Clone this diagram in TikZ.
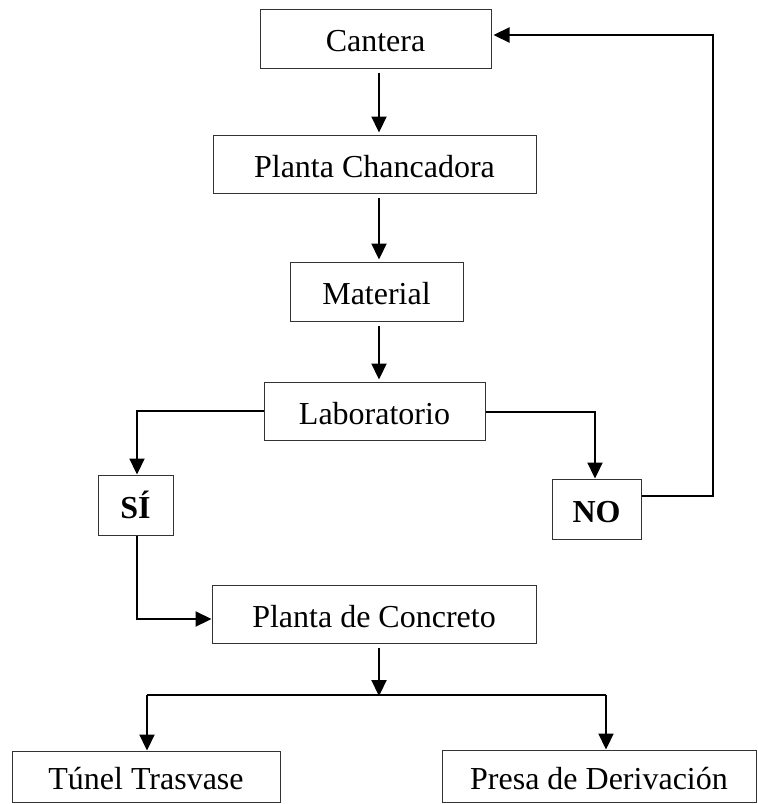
\documentclass[tikz,border=0pt]{standalone}
\usepackage{fontspec}
\setmainfont{Liberation Serif}
\usetikzlibrary{arrows.meta}
\begin{document}
\begin{tikzpicture}[x=1pt,y=-1pt,
  box/.style={draw=black!80,line width=1pt,rectangle,inner sep=0pt,
    text height=26pt,text depth=0pt,
    font=\fontsize{32pt}{38pt}\selectfont},
  flow/.style={line width=2.2pt,-{Triangle[width=15pt,length=16pt]}},
  feed/.style={flow,shorten <=4pt,shorten >=2pt},
  link/.style={line width=2.2pt}]
\useasboundingbox (0,0) rectangle (758,804);

% process boxes
\node[box,minimum width=231pt,minimum height=59pt] (c)   at (375.5,38.5) {Cantera};
\node[box,minimum width=323pt,minimum height=58pt] (pc)  at (374.5,164) {Planta Chancadora};
\node[box,minimum width=173pt,minimum height=59pt] (mat) at (376.5,291.5) {Material};
\node[box,minimum width=221pt,minimum height=58pt] (lab) at (374.5,411) {Laboratorio};
\node[box,minimum width=75pt,minimum height=60pt,font=\fontsize{32pt}{38pt}\selectfont\bfseries] (si) at (135.5,505) {SÍ};
\node[box,minimum width=89pt,minimum height=60pt,font=\fontsize{32pt}{38pt}\selectfont\bfseries] (no) at (596.5,509) {NO};
\node[box,minimum width=324pt,minimum height=58pt] (pdc) at (374,614) {Planta de Concreto};
\node[box,minimum width=268pt,minimum height=51pt] (tun) at (146,776.5) {Túnel Trasvase};
\node[box,minimum width=314pt,minimum height=52pt] (pre) at (599,776) {Presa de Derivación};

% guide points for the connectors
\coordinate (spine) at (379,0);
\coordinate (loop)  at (713,35);
\coordinate (split) at (379,695);
\coordinate (bl)    at (147,695);
\coordinate (br)    at (606,695);

% main column
\draw[feed] (c.south -| spine) -- (pc.north -| spine);
\draw[feed] (pc.south -| spine) -- (mat.north -| spine);
\draw[feed] (mat.south -| spine) -- (lab.north -| spine);

% laboratory decision
\draw[flow] (lab.west) -| ([xshift=1.5pt]si.north);
\draw[flow] ([yshift=-1pt]lab.east) -| ([xshift=-1.5pt]no.north);

% rejected material returns to the quarry
\draw[flow] ([yshift=13pt]no.east) -| (loop) -- ([xshift=2pt]loop -| c.east);

% accepted material goes to the concrete plant
\draw[flow] ([xshift=1.5pt]si.south) |- ([yshift=-5pt]pdc.west);

% distribution
\draw[flow,shorten <=4pt,shorten >=-1pt] (pdc.south -| spine) -- (split);
\draw[link] (bl) -- (br);
\draw[flow] (bl) -- (bl |- tun.north);
\draw[flow] (br) -- (br |- pre.north);
\end{tikzpicture}
\end{document}
